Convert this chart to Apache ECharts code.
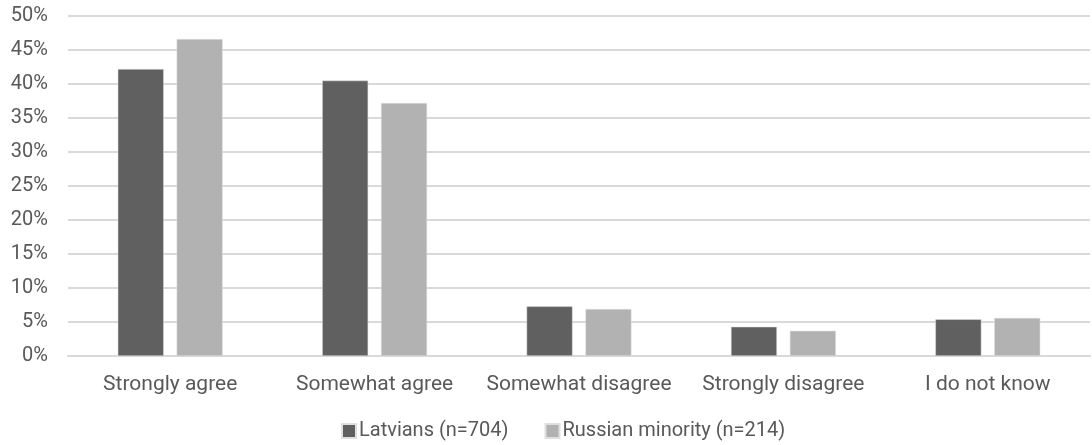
<!DOCTYPE html>
<html>
<head>
<meta charset="utf-8">
<script src="https://cdn.jsdelivr.net/npm/echarts@6/dist/echarts.min.js"></script>
<style>
  html, body { margin: 0; padding: 0; background: #fff; }
  #main { width: 1092px; height: 445px; }
</style>
</head>
<body>
<div id="main"></div>
<script>
// 数据
var categories = ['Strongly agree', 'Somewhat agree', 'Somewhat disagree', 'Strongly disagree', 'I do not know'];
var latvians = [42.2, 40.5, 7.3, 4.3, 5.4];
var russianMinority = [46.6, 37.2, 6.9, 3.7, 5.6];
var seriesNames = ['Latvians (n=704)', 'Russian minority (n=214)'];

var mapChart = echarts.init(document.getElementById('main'));

var option = {
    textStyle: { fontFamily: 'Roboto' },
    grid: { left: 68, right: 2, top: 16, bottom: 89 },
    legend: {
        left: 336,
        top: 416,
        itemWidth: 14,
        itemHeight: 14,
        itemGap: 36,
        icon: 'rect',
        textStyle: { fontSize: 20, color: '#595959', fontFamily: 'Roboto', padding: [0, 0, 0, -2] },
        data: seriesNames
    },
    xAxis: {
        type: 'category',
        data: categories,
        axisLine: { lineStyle: { color: '#d9d9d9', width: 2 } },
        axisTick: { show: false },
        axisLabel: { fontSize: 21, color: '#595959', margin: 18, interval: 0, fontFamily: 'Roboto' }
    },
    yAxis: {
        type: 'value',
        min: 0,
        max: 50,
        interval: 5,
        axisLabel: { fontSize: 20, color: '#595959', formatter: '{value}%', margin: 20, fontFamily: 'Roboto' },
        splitLine: { lineStyle: { color: '#d9d9d9', width: 2 } },
        axisLine: { show: false },
        axisTick: { show: false }
    },
    series: [
        {
            name: seriesNames[0],
            type: 'bar',
            data: latvians,
            barWidth: 46,
            barGap: '28%',
            itemStyle: { color: '#606060', borderColor: '#e0e0e0', borderWidth: 0.5 }
        },
        {
            name: seriesNames[1],
            type: 'bar',
            data: russianMinority,
            barWidth: 46,
            barGap: '28%',
            itemStyle: { color: '#b2b2b2', borderColor: '#e0e0e0', borderWidth: 0.5 }
        }
    ]
};

mapChart.setOption(option);
</script>
</body>
</html>
